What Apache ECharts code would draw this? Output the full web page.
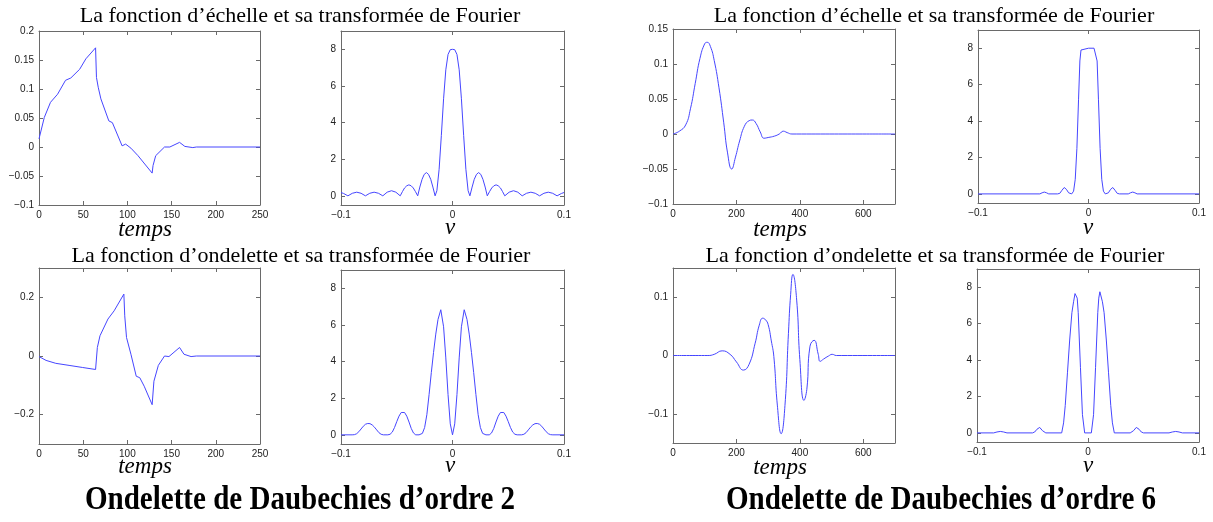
<!DOCTYPE html>
<html>
<head>
<meta charset="utf-8">
<script src="https://cdn.jsdelivr.net/npm/echarts@6/dist/echarts.min.js"></script>
<style>
html, body { margin: 0; padding: 0; background: #fff; }
#chart { width: 1213px; height: 522px; }
</style>
</head>
<body>
<div id="chart"></div>
<script>
// ---- tick values ----
var ticksT250 = [0, 50, 100, 150, 200, 250];
var ticksT700 = [0, 200, 400, 600];
var ticksNu = [-0.1, 0, 0.1];
var ticksMag = [0, 2, 4, 6, 8];
var ticksPhi2 = [-0.1, -0.05, 0, 0.05, 0.1, 0.15, 0.2];
var ticksPsi2 = [-0.2, 0, 0.2];
var ticksPhi6 = [-0.1, -0.05, 0, 0.05, 0.1, 0.15];
var ticksPsi6 = [-0.1, 0, 0.1];

// ---- Daubechies 2 : fonction d'echelle (temps) ----
var tPhi2 = [0, 6, 13, 21, 30, 36, 46, 53, 64, 65, 67, 70, 79, 83, 94, 98, 104, 112, 128, 129, 132, 142, 148, 159, 165, 174, 178, 250];
var phi2 = [0.014, 0.051, 0.077, 0.091, 0.115, 0.119, 0.134, 0.152, 0.171, 0.12, 0.103, 0.083, 0.045, 0.042, 0.002, 0.005, -0.002, -0.015, -0.045, -0.032, -0.015, 0.0, 0.0, 0.008, 0.001, -0.001, 0, 0];

// ---- Daubechies 2 : ondelette (temps) ----
var tPsi2 = [0, 8, 19, 34, 49, 64, 66, 69, 78, 85, 96, 97, 99, 104, 110, 114, 119, 128, 130, 135, 142, 147, 159, 164, 172, 178, 250];
var psi2 = [-0.002, -0.015, -0.025, -0.032, -0.039, -0.046, 0.029, 0.069, 0.126, 0.154, 0.211, 0.137, 0.063, 0.006, -0.069, -0.074, -0.103, -0.166, -0.086, -0.032, 0, -0.002, 0.029, 0.006, -0.002, 0, 0];

// ---- Daubechies 2 : |transformee| fonction d'echelle ----
var nuPhi2 = [-0.1, -0.0977, -0.0938, -0.0898, -0.0859, -0.0820, -0.0781, -0.0742, -0.0703, -0.0664, -0.0625, -0.0586, -0.0547, -0.0508, -0.0469, -0.0449, -0.0430, -0.0410, -0.0391, -0.0371, -0.0352, -0.0332, -0.0312, -0.0293, -0.0273, -0.0254, -0.0234, -0.0215, -0.0195, -0.0176, -0.0156, -0.014, -0.012, -0.010, -0.008, -0.006, -0.004, -0.002,
  0, 0.002, 0.004, 0.006, 0.008, 0.010, 0.012, 0.014, 0.0156, 0.0176, 0.0195, 0.0215, 0.0234, 0.0254, 0.0273, 0.0293, 0.0312, 0.0332, 0.0352, 0.0371, 0.0391, 0.0410, 0.0430, 0.0449, 0.0469, 0.0508, 0.0547, 0.0586, 0.0625, 0.0664, 0.0703, 0.0742, 0.0781, 0.0820, 0.0859, 0.0898, 0.0938, 0.0977, 0.1];
var magPhi2 = [0.18, 0.13, 0, 0.14, 0.2, 0.14, 0, 0.14, 0.2, 0.14, 0, 0.2, 0.28, 0.2, 0, 0.23, 0.43, 0.55, 0.6, 0.55, 0.43, 0.23, 0, 0.48, 0.9, 1.17, 1.27, 1.17, 0.9, 0.48, 0, 0.28, 1.45, 3.3, 5.3, 6.88, 7.72, 7.98,
  8, 7.98, 7.72, 6.88, 5.3, 3.3, 1.45, 0.28, 0, 0.48, 0.9, 1.17, 1.27, 1.17, 0.9, 0.48, 0, 0.23, 0.43, 0.55, 0.6, 0.55, 0.43, 0.23, 0, 0.2, 0.28, 0.2, 0, 0.14, 0.2, 0.14, 0, 0.14, 0.2, 0.14, 0, 0.13, 0.18];

// ---- Daubechies 2 : |transformee| ondelette ----
var nuPsi2 = [-0.1, -0.090, -0.088, -0.086, -0.084, -0.082, -0.080, -0.078, -0.076, -0.074, -0.072, -0.070, -0.068, -0.066, -0.064, -0.062, -0.058, -0.056, -0.054, -0.052, -0.050, -0.048, -0.046, -0.0445, -0.043, -0.041, -0.039, -0.037, -0.035, -0.033, -0.030, -0.027, -0.025, -0.023, -0.021, -0.019, -0.017, -0.015, -0.013, -0.0105, -0.008, -0.006, -0.004, -0.002,
  0, 0.002, 0.004, 0.006, 0.008, 0.0105, 0.013, 0.015, 0.017, 0.019, 0.021, 0.023, 0.025, 0.027, 0.030, 0.033, 0.035, 0.037, 0.039, 0.041, 0.043, 0.0445, 0.046, 0.048, 0.050, 0.052, 0.054, 0.056, 0.058, 0.062, 0.064, 0.066, 0.068, 0.070, 0.072, 0.074, 0.076, 0.078, 0.080, 0.082, 0.084, 0.086, 0.088, 0.090, 0.1];
var magPsi2 = [0, 0, 0.01, 0.06, 0.17, 0.32, 0.47, 0.58, 0.62, 0.61, 0.54, 0.42, 0.27, 0.12, 0.03, 0, 0, 0.03, 0.15, 0.4, 0.72, 1.02, 1.22, 1.27, 1.22, 1.02, 0.7, 0.35, 0.1, 0, 0, 0.08, 0.4, 1.1, 2.2, 3.4, 4.5, 5.5, 6.3, 6.83, 5.9, 4.2, 2.2, 0.6,
  0, 0.6, 2.2, 4.2, 5.9, 6.83, 6.3, 5.5, 4.5, 3.4, 2.2, 1.1, 0.4, 0.08, 0, 0, 0.1, 0.35, 0.7, 1.02, 1.22, 1.27, 1.22, 1.02, 0.72, 0.4, 0.15, 0.03, 0, 0, 0.03, 0.12, 0.27, 0.42, 0.54, 0.61, 0.62, 0.58, 0.47, 0.32, 0.17, 0.06, 0.01, 0, 0];

// ---- Daubechies 6 : fonction d'echelle (temps) ----
var tPhi6 = [0, 20, 40, 55, 70, 85, 100, 108, 118, 130, 145, 160, 172, 185, 197, 210, 225, 240, 250, 262, 275, 287, 300, 320, 335, 348, 360, 375, 700];
var phi6 = [0, 0.004, 0.013, 0.036, 0.072, 0.108, 0.129, 0.131, 0.125, 0.105, 0.066, 0.016, -0.027, -0.050, -0.033, -0.010, 0.011, 0.019, 0.020, 0.015, 0.003, -0.006, -0.005, -0.003, 0.000, 0.004, 0.002, 0, 0];

// ---- Daubechies 6 : ondelette (temps) ----
var tPsi6 = [0, 110, 130, 155, 180, 200, 222, 240, 259, 272, 283, 292, 300, 310, 318, 329, 341, 353, 364, 371, 378, 390, 400, 413, 422, 432, 445, 458, 464, 475, 490, 502, 515, 700];
var psi6 = [0, 0, 0.002, 0.008, 0.002, -0.011, -0.025, -0.015, 0.021, 0.052, 0.064, 0.061, 0.053, 0.025, -0.002, -0.085, -0.134, -0.086, 0.038, 0.105, 0.139, 0.095, -0.007, -0.077, -0.058, 0.016, 0.026, 0.002, -0.010, -0.006, -0.001, 0.002, 0, 0];

// ---- Daubechies 6 : |transformee| fonction d'echelle ----
var nuPhi6 = [-0.1, -0.044, -0.042, -0.040, -0.038, -0.036, -0.028, -0.026, -0.024, -0.022, -0.020, -0.018, -0.0152, -0.0135, -0.012, -0.0105, -0.009, -0.0078, -0.0068, -0.005,
  0, 0.005, 0.0068, 0.0078, 0.009, 0.0105, 0.012, 0.0135, 0.0152, 0.018, 0.020, 0.022, 0.024, 0.026, 0.028, 0.036, 0.038, 0.040, 0.042, 0.044, 0.1];
var magPhi6 = [0, 0, 0.06, 0.1, 0.06, 0, 0, 0.03, 0.2, 0.35, 0.25, 0.06, 0, 0.15, 0.8, 2.5, 5.2, 7.3, 7.9, 8.0,
  8.0, 8.0, 7.9, 7.3, 5.2, 2.5, 0.8, 0.15, 0, 0.06, 0.25, 0.35, 0.2, 0.03, 0, 0, 0.06, 0.1, 0.06, 0, 0];

// ---- Daubechies 6 : |transformee| ondelette ----
var nuPsi6 = [-0.1, -0.085, -0.082, -0.079, -0.076, -0.073, -0.050, -0.048, -0.046, -0.0435, -0.041, -0.038, -0.0237, -0.022, -0.0205, -0.0185, -0.0165, -0.0145, -0.0130, -0.0117, -0.0107, -0.0097, -0.0088, -0.0068, -0.005, -0.003,
  0, 0.003, 0.005, 0.0068, 0.0088, 0.0097, 0.0107, 0.0117, 0.0130, 0.0145, 0.0165, 0.0185, 0.0205, 0.022, 0.0237, 0.038, 0.041, 0.0435, 0.046, 0.048, 0.050, 0.073, 0.076, 0.079, 0.082, 0.085, 0.1];
var magPsi6 = [0, 0, 0.05, 0.08, 0.05, 0, 0, 0.05, 0.2, 0.3, 0.12, 0, 0, 0.55, 1.5, 3.3, 5.1, 6.6, 7.2, 7.65, 7.75, 7.4, 6.6, 3.6, 1.0, 0,
  0, 0, 1.0, 3.6, 6.6, 7.4, 7.75, 7.65, 7.2, 6.6, 5.1, 3.3, 1.5, 0.55, 0, 0, 0.12, 0.3, 0.2, 0.05, 0, 0, 0.05, 0.08, 0.05, 0, 0];

var chart = echarts.init(document.getElementById('chart'));

var blue = '#4646ff';
var frame = '#6a6a6a';

function fmt(v) { return String(v).replace('-', '\u2212'); }
function pairs(xs, ys) { return xs.map(function (x, i) { return [x, ys[i]]; }); }

var panels = [
  {box: {left: 39, top: 31, width: 221, height: 174}, xr: [0, 250], xt: ticksT250, yr: [-0.1, 0.2], yt: ticksPhi2, data: pairs(tPhi2, phi2)},
  {box: {left: 341, top: 31, width: 223, height: 174}, xr: [-0.1, 0.1], xt: ticksNu, yr: [-0.5, 9], yt: ticksMag, data: pairs(nuPhi2, magPhi2)},
  {box: {left: 39, top: 268, width: 221, height: 176}, xr: [0, 250], xt: ticksT250, yr: [-0.3, 0.3], yt: ticksPsi2, data: pairs(tPsi2, psi2)},
  {box: {left: 341, top: 270, width: 223, height: 174}, xr: [-0.1, 0.1], xt: ticksNu, yr: [-0.5, 9], yt: ticksMag, data: pairs(nuPsi2, magPsi2)},
  {box: {left: 673, top: 29, width: 222, height: 175}, xr: [0, 700], xt: ticksT700, yr: [-0.1, 0.15], yt: ticksPhi6, data: pairs(tPhi6, phi6), smooth: 0.5},
  {box: {left: 978, top: 30, width: 221, height: 173}, xr: [-0.1, 0.1], xt: ticksNu, yr: [-0.5, 9], yt: ticksMag, data: pairs(nuPhi6, magPhi6)},
  {box: {left: 673, top: 268, width: 222, height: 175}, xr: [0, 700], xt: ticksT700, yr: [-0.15, 0.15], yt: ticksPsi6, data: pairs(tPsi6, psi6), smooth: 0.5},
  {box: {left: 977, top: 269, width: 222, height: 173}, xr: [-0.1, 0.1], xt: ticksNu, yr: [-0.5, 9], yt: ticksMag, data: pairs(nuPsi6, magPsi6)}
];

var grids = [], xAxes = [], yAxes = [], series = [];

function axis(i, pos, range, ticks, labels) {
  return {
    type: 'value', gridIndex: i, position: pos,
    min: range[0], max: range[1],
    axisLine: {show: true, onZero: false, lineStyle: {color: frame, width: 1}},
    axisTick: {show: true, inside: true, length: 4, customValues: ticks, lineStyle: {color: frame}},
    axisLabel: {show: labels, customValues: ticks, formatter: fmt, margin: 5, color: '#222',
      fontSize: 10, fontFamily: 'Liberation Sans'},
    splitLine: {show: false}
  };
}

panels.forEach(function (p, i) {
  grids.push(p.box);
  xAxes.push(axis(i, 'bottom', p.xr, p.xt, true));
  xAxes.push(axis(i, 'top', p.xr, p.xt, false));
  yAxes.push(axis(i, 'left', p.yr, p.yt, true));
  yAxes.push(axis(i, 'right', p.yr, p.yt, false));
  series.push({
    type: 'line', xAxisIndex: 2 * i, yAxisIndex: 2 * i,
    data: p.data, showSymbol: false, smooth: p.smooth || false,
    lineStyle: {color: blue, width: 1}, silent: true
  });
});

function label(x, y, text, font, scaleX) {
  return {
    type: 'text', x: x, y: y, scaleX: scaleX || 1,
    style: {text: text, x: 0, y: 0, font: font, fill: '#000', textAlign: 'center', textVerticalAlign: 'middle'}
  };
}

var titleFont = '22px "Liberation Serif"';
var axisFont = 'italic 23px "Liberation Serif"';
var bigFont = 'bold 33px "Liberation Serif"';

var option = {
  animation: false,
  backgroundColor: '#fff',
  grid: grids,
  xAxis: xAxes,
  yAxis: yAxes,
  series: series,
  graphic: [
    label(300, 16, 'La fonction d\u2019échelle et sa transformée de Fourier', titleFont),
    label(934, 16, 'La fonction d\u2019échelle et sa transformée de Fourier', titleFont),
    label(301, 256, 'La fonction d\u2019ondelette et sa transformée de Fourier', titleFont),
    label(935, 256, 'La fonction d\u2019ondelette et sa transformée de Fourier', titleFont),
    label(145, 230, 'temps', axisFont),
    label(145, 467, 'temps', axisFont),
    label(780, 230, 'temps', axisFont),
    label(780, 468, 'temps', axisFont),
    label(450, 228, '\u03bd', axisFont),
    label(450, 466, '\u03bd', axisFont),
    label(1088, 228, '\u03bd', axisFont),
    label(1088, 466, '\u03bd', axisFont),
    label(300, 500, 'Ondelette de Daubechies d\u2019ordre 2', bigFont, 0.88),
    label(941, 500, 'Ondelette de Daubechies d\u2019ordre 6', bigFont, 0.88)
  ]
};

chart.setOption(option);
</script>
</body>
</html>
